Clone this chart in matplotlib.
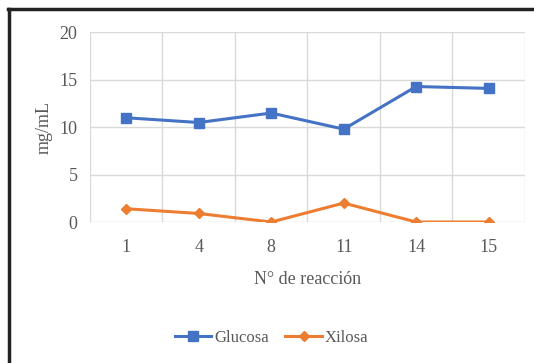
import numpy as np
import matplotlib.pyplot as plt
from matplotlib.lines import Line2D

# ── Data ──────────────────────────────────────────────────────────────────────
reactions = ["1", "4", "8", "11", "14", "15"]
glucosa = [11.0, 10.5, 11.5, 9.8, 14.3, 14.1]
xilosa = [1.4, 0.9, 0.0, 2.0, 0.0, 0.0]

BLUE = "#4472C4"
ORANGE = "#ED7D31"
TEXT = "#595959"
GRID = "#D9D9D9"

plt.rcParams["font.family"] = ["Liberation Serif", "DejaVu Serif"]

fig = plt.figure(figsize=(5.34, 3.63), dpi=100)
ax = fig.add_axes([0.1685, 0.3884, 0.8146, 0.5221])

x = np.arange(len(reactions))
ax.plot(x, glucosa, color=BLUE, lw=2.2, marker="s", ms=7, label="Glucosa")
ax.plot(x, xilosa, color=ORANGE, lw=2.2, marker="D", ms=5, label="Xilosa")

ax.set_xlim(-0.5, len(reactions) - 0.5)
ax.set_ylim(0, 20)
ax.set_yticks([0, 5, 10, 15, 20])
ax.set_xticks(x)
ax.set_xticklabels(reactions)
ax.set_xticks(np.arange(-0.5, len(reactions)), minor=True)

ax.grid(True, axis="y", color=GRID, lw=1)
ax.grid(True, axis="x", which="minor", color=GRID, lw=1)
ax.grid(False, axis="x", which="major")
ax.set_axisbelow(True)
for side in ["left", "right", "top", "bottom"]:
    ax.spines[side].set_visible(False)
ax.tick_params(which="both", length=0, labelsize=13, colors=TEXT)
ax.tick_params(axis="x", pad=12)
ax.tick_params(axis="y", pad=9)

ax.set_xlabel("N° de reacción", fontsize=13, color=TEXT, labelpad=11)
ax.set_ylabel("mg/mL", fontsize=13, color=TEXT, labelpad=5)

handles = [
    Line2D([], [], color=BLUE, lw=2.2, marker="s", ms=7),
    Line2D([], [], color=ORANGE, lw=2.2, marker="D", ms=5),
]
fig.legend(handles, ["Glucosa", "Xilosa"], loc="center", ncol=2,
           bbox_to_anchor=(0.508, 0.07), frameon=False, fontsize=12,
           labelcolor=TEXT, handlelength=2.2, handletextpad=0.15,
           columnspacing=1.0)

# frame lines around the chart box
fig.add_artist(Line2D([0.017, 0.017], [0, 0.975], color="#222222", lw=2.5,
                      transform=fig.transFigure))
fig.add_artist(Line2D([0.015, 1], [0.974, 0.974], color="#222222", lw=2.5,
                      transform=fig.transFigure))

fig.savefig("out.png", dpi=100)
